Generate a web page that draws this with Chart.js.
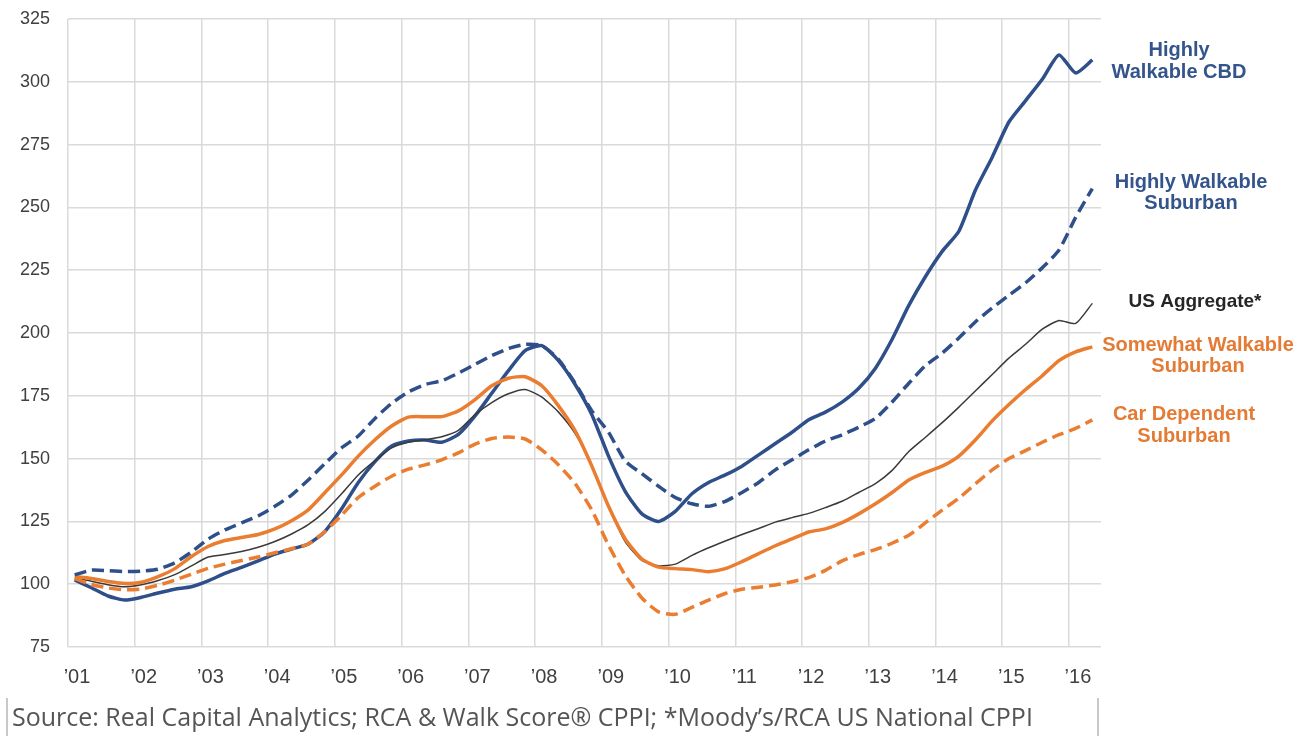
<!DOCTYPE html>
<html>
<head>
<meta charset="utf-8">
<title>Walkable CPPI</title>
<script src="https://cdn.jsdelivr.net/npm/chart.js@4/dist/chart.umd.min.js"></script>
<style>
  html, body { margin: 0; padding: 0; background: #ffffff; }
  #wrap { position: relative; width: 1307px; height: 736px; }
  canvas { display: block; }
</style>
</head>
<body>
<div id="wrap"><canvas id="chart" width="1307" height="736"></canvas></div>
<script>
// Quarter positions (decimal years) for every index reading
const quarters = [
  2001.10, 2001.35, 2001.60, 2001.85,
  2002.10, 2002.35, 2002.60, 2002.85,
  2003.10, 2003.35, 2003.60, 2003.85,
  2004.10, 2004.35, 2004.60, 2004.85,
  2005.10, 2005.35, 2005.60, 2005.85,
  2006.10, 2006.35, 2006.60, 2006.85,
  2007.10, 2007.35, 2007.60, 2007.85,
  2008.10, 2008.35, 2008.60, 2008.85,
  2009.10, 2009.35, 2009.60, 2009.85,
  2010.10, 2010.35, 2010.60, 2010.85,
  2011.10, 2011.35, 2011.60, 2011.85,
  2012.10, 2012.35, 2012.60, 2012.85,
  2013.10, 2013.35, 2013.60, 2013.85,
  2014.10, 2014.35, 2014.60, 2014.85,
  2015.10, 2015.35, 2015.60, 2015.85,
  2016.10, 2016.35
];

// Year ticks on the x axis
const yearTicks = [2001, 2002, 2003, 2004, 2005, 2006, 2007, 2008,
                   2009, 2010, 2011, 2012, 2013, 2014, 2015, 2016];
const yTicks = [75, 100, 125, 150, 175, 200, 225, 250, 275, 300, 325];

const highlyWalkableCBD = [
  101.7, 98.6, 95.3, 93.7,
  94.8, 96.5, 98.0, 99.0,
  101.3, 104.3, 106.7, 109.3,
  112.0, 114.0, 116.0, 121.0,
  130.0, 140.5, 148.8, 155.0,
  157.0, 157.4, 156.5, 159.6,
  167.0, 176.0, 185.0, 193.0,
  195.0, 189.0, 179.5, 167.5,
  151.0, 137.0, 128.0, 125.0,
  129.0, 136.0, 140.5, 143.5,
  147.0, 151.5, 156.0, 160.5,
  165.5, 168.5, 172.5, 178.0,
  186.0, 197.5, 211.0, 222.5,
  232.5, 240.5, 257.0, 270.0,
  284.0, 292.5, 301.0, 310.7,
  303.5, 308.7
];

const highlyWalkableSuburban = [
  103.7, 105.6, 105.4, 105.0,
  105.2, 106.0, 108.5, 112.8,
  118.0, 121.6, 124.4, 127.2,
  131.0, 135.5, 141.5, 148.0,
  154.3, 159.0, 166.0, 172.0,
  176.5, 179.5, 181.0, 184.0,
  187.5, 191.0, 193.8, 195.5,
  195.0, 189.5, 180.0, 169.0,
  160.5, 149.0, 144.0, 139.0,
  134.5, 132.0, 131.0, 133.0,
  136.5, 140.5, 145.5, 149.5,
  153.5, 157.0, 159.5, 162.5,
  166.0, 172.5, 180.0, 187.0,
  192.0, 198.0, 204.5, 210.0,
  215.0, 220.0, 226.0, 233.0,
  246.0, 257.5
];

const usAggregate = [
  102.3, 101.2, 99.8, 99.0,
  99.8, 101.5, 103.8, 107.3,
  110.8, 111.8, 113.0, 114.7,
  117.0, 120.0, 123.7, 129.0,
  136.0, 143.5, 149.2, 154.3,
  156.5, 157.5, 158.7, 161.2,
  167.5, 172.3, 175.8, 177.5,
  174.5, 168.5, 160.0, 147.5,
  131.0, 117.0, 109.5, 107.3,
  108.0, 111.5, 114.5, 117.2,
  119.8, 122.2, 124.7, 126.5,
  128.2, 130.5, 133.0, 136.5,
  140.0, 145.3, 152.8, 158.5,
  164.3, 170.5, 177.0, 183.5,
  190.0, 195.5, 201.5, 205.0,
  203.8, 211.8
];

const somewhatWalkableSuburban = [
  103.0, 102.3, 101.1, 100.3,
  100.8, 103.0, 106.2, 111.0,
  115.0, 117.4, 118.6, 119.8,
  122.0, 125.3, 129.6, 136.5,
  143.5, 151.0, 157.5, 163.0,
  166.5, 166.7, 166.7, 169.0,
  173.5, 179.0, 182.0, 182.6,
  179.0, 171.0, 161.0, 147.0,
  131.0, 118.0, 110.0, 106.8,
  106.2, 105.8, 105.0, 106.2,
  109.0, 112.2, 115.3, 118.0,
  120.8, 122.0, 124.5, 128.0,
  132.0, 136.5, 141.5, 144.5,
  147.0, 151.0, 157.5, 165.0,
  171.5, 177.5, 183.0, 189.0,
  192.5, 194.5
];

const carDependentSuburban = [
  102.3, 99.9, 98.5, 97.8,
  98.1, 99.6, 101.6, 104.0,
  106.3, 108.0, 109.4, 110.8,
  112.5, 114.1, 116.0, 121.0,
  127.5, 134.5, 139.0, 143.0,
  145.8, 147.5, 149.5, 152.3,
  155.8, 158.0, 158.6, 157.8,
  153.5, 147.5, 140.0, 129.5,
  115.5, 103.5, 94.5, 89.0,
  88.0, 90.8, 93.7, 96.3,
  98.0, 98.8, 99.7, 101.0,
  102.6, 105.5, 109.3, 111.8,
  113.8, 116.3, 119.5, 124.5,
  129.5, 134.2, 140.0, 145.5,
  150.0, 153.2, 156.5, 159.5,
  162.0, 165.4
];

// Series names as printed beside the line ends (one entry per text row)
const seriesLabels = [
  { lines: ['Highly', 'Walkable CBD'], color: '#34548c', size: 20, x: 1179, y: [50, 72] },
  { lines: ['Highly Walkable', 'Suburban'], color: '#34548c', size: 20, x: 1191, y: [182, 203] },
  { lines: ['US Aggregate*'], color: '#262626', size: 19, x: 1195, y: [302] },
  { lines: ['Somewhat Walkable', 'Suburban'], color: '#e47b35', size: 20, x: 1198, y: [345, 366] },
  { lines: ['Car Dependent', 'Suburban'], color: '#e47b35', size: 20, x: 1184, y: [414, 436] }
];

const sourceNote = 'Source: Real Capital Analytics; RCA & Walk Score\u00AE CPPI; *Moody\u2019s/RCA US National CPPI';

const BLUE = '#2e4f8a';
const ORANGE = '#ea7d30';
const BLACK = '#3a3a3a';

function points(values) {
  return values.map((v, i) => ({ x: quarters[i], y: v }));
}

// Text beside the series ends and the source line under the plot
const annotations = {
  id: 'annotations',
  afterDraw(chart) {
    const ctx = chart.ctx;
    ctx.save();
    ctx.textAlign = 'center';
    ctx.textBaseline = 'middle';
    seriesLabels.forEach(lbl => {
      ctx.font = 'bold ' + lbl.size + 'px "Liberation Sans", Arial, sans-serif';
      ctx.fillStyle = lbl.color;
      lbl.lines.forEach((t, k) => ctx.fillText(t, lbl.x, lbl.y[k]));
    });

    // source box edges
    ctx.strokeStyle = '#c8c8c8';
    ctx.lineWidth = 2;
    ctx.beginPath();
    ctx.moveTo(7, 698); ctx.lineTo(7, 736);
    ctx.moveTo(1098, 698); ctx.lineTo(1098, 736);
    ctx.stroke();

    ctx.textAlign = 'left';
    ctx.fillStyle = '#555555';
    ctx.font = '25px "Open Sans", "Noto Sans", sans-serif';
    ctx.fillText(sourceNote, 12, 719);
    ctx.restore();
  }
};

new Chart(document.getElementById('chart'), {
  type: 'line',
  data: {
    datasets: [
      {
        label: 'Car Dependent Suburban',
        data: points(carDependentSuburban),
        borderColor: ORANGE,
        borderWidth: 3.5,
        borderDash: [12, 6]
      },
      {
        label: 'Highly Walkable Suburban',
        data: points(highlyWalkableSuburban),
        borderColor: BLUE,
        borderWidth: 3.5,
        borderDash: [12, 6]
      },
      {
        label: 'Somewhat Walkable Suburban',
        data: points(somewhatWalkableSuburban),
        borderColor: ORANGE,
        borderWidth: 3.5
      },
      {
        label: 'US Aggregate*',
        data: points(usAggregate),
        borderColor: BLACK,
        borderWidth: 1.5
      },
      {
        label: 'Highly Walkable CBD',
        data: points(highlyWalkableCBD),
        borderColor: BLUE,
        borderWidth: 3.5
      }
    ]
  },
  options: {
    responsive: false,
    animation: false,
    events: [],
    layout: { padding: { left: 0, top: 19, right: 206, bottom: 0 } },
    elements: {
      point: { radius: 0 },
      line: { tension: 0.2, fill: false, borderCapStyle: 'butt', borderJoinStyle: 'round' }
    },
    plugins: {
      legend: { display: false },
      tooltip: { enabled: false },
      title: { display: false }
    },
    scales: {
      x: {
        type: 'linear',
        min: 2001,
        max: 2016.48,
        afterBuildTicks(scale) {
          scale.ticks = yearTicks.map(v => ({ value: v }));
        },
        afterFit(scale) {
          scale.height = 89;
          scale.paddingLeft = 0;
          scale.paddingRight = 0;
        },
        grid: { color: '#dadada', lineWidth: 1.5, drawTicks: false },
        border: { display: false },
        ticks: {
          padding: 18,
          labelOffset: 9,
          maxRotation: 0,
          autoSkip: false,
          color: '#404040',
          font: { family: '"Liberation Sans", Arial, sans-serif', size: 20 },
          callback: v => '\u2019' + String(v).slice(2)
        }
      },
      y: {
        type: 'linear',
        min: 75,
        max: 325,
        afterBuildTicks(scale) {
          scale.ticks = yTicks.map(v => ({ value: v }));
        },
        afterFit(scale) {
          scale.width = 68;
          scale.paddingTop = 0;
          scale.paddingBottom = 0;
        },
        grid: { color: '#dadada', lineWidth: 1.5, drawTicks: false },
        border: { display: false },
        ticks: {
          padding: 18,
          color: '#404040',
          font: { family: '"Liberation Sans", Arial, sans-serif', size: 18 }
        }
      }
    }
  },
  plugins: [annotations]
});
</script>
</body>
</html>
